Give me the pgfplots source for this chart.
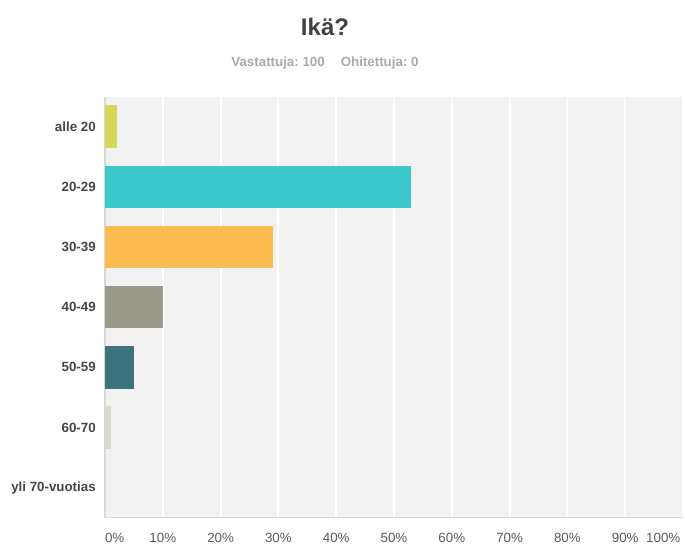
\documentclass[border=0pt]{standalone}
\usepackage{pgfplots}
\pgfplotsset{compat=1.18}
\usepackage{fontspec}
\setmainfont{Liberation Sans}
\frenchspacing
\definecolor{cA}{HTML}{D5D955}
\definecolor{cB}{HTML}{3BC8CB}
\definecolor{cC}{HTML}{FBBB4E}
\definecolor{cD}{HTML}{9A998B}
\definecolor{cE}{HTML}{3A727E}
\definecolor{cF}{HTML}{DBDAD0}
\definecolor{bggray}{HTML}{F2F2F2}
\definecolor{axgray}{HTML}{D8D8D8}
\definecolor{titlegray}{HTML}{404040}
\definecolor{subgray}{HTML}{AAAAAA}
\definecolor{labgray}{HTML}{454545}
\definecolor{tickgray}{HTML}{5A5A5A}
\begin{document}
\begin{tikzpicture}
\useasboundingbox (0,0) rectangle (513.75pt,411.75pt);
\node[font=\bfseries\fontsize{18}{20}\selectfont, text=titlegray] at (243.75pt,391.5pt) {Ikä?};
\node[font=\bfseries\fontsize{10}{12}\selectfont, text=subgray] at (243.75pt,364.5pt) {\frenchspacing Vastattuja: 100\hspace{12pt}Ohitettuja: 0};
\begin{axis}[
  at={(78.75pt,23.5pt)}, anchor=south west,
  scale only axis, width=433.5pt, height=315.75pt,
  xmin=0, xmax=100, ymin=-0.5, ymax=6.5,
  xbar, bar width=31.9pt, bar shift=0pt,
  axis background/.style={fill=bggray},
  axis lines*=left,
  axis line style={draw=axgray, line width=1.2pt},
  xtick={0,10,...,100},
  xticklabels={\makebox[0pt][l]{0\%},10\%,20\%,30\%,40\%,50\%,60\%,70\%,80\%,90\%,\makebox[0pt][r]{100\%\hspace{2pt}}},
  xmajorgrids, grid style={white, line width=1.5pt},
  ytick={0,...,6},
  yticklabels={yli 70-vuotias,60-70,50-59,40-49,30-39,20-29,alle 20},
  major tick length=0pt,
  tick style={draw=none},
  xticklabel style={font=\fontsize{10}{12}\selectfont, text=tickgray, anchor=north, inner sep=0pt, yshift=-11.5pt},
  yticklabel style={font=\bfseries\fontsize{10}{12}\selectfont, text=labgray, anchor=east, inner sep=0pt, xshift=-6.75pt},
  clip=false,
]
\addplot[fill=cA, draw=none] coordinates {(2,6)};
\addplot[fill=cB, draw=none] coordinates {(53,5)};
\addplot[fill=cC, draw=none] coordinates {(29,4)};
\addplot[fill=cD, draw=none] coordinates {(10,3)};
\addplot[fill=cE, draw=none] coordinates {(5,2)};
\addplot[fill=cF, draw=none] coordinates {(1,1)};
\addplot[fill=cF, draw=none] coordinates {(0,0)};
\end{axis}
\end{tikzpicture}
\end{document}
